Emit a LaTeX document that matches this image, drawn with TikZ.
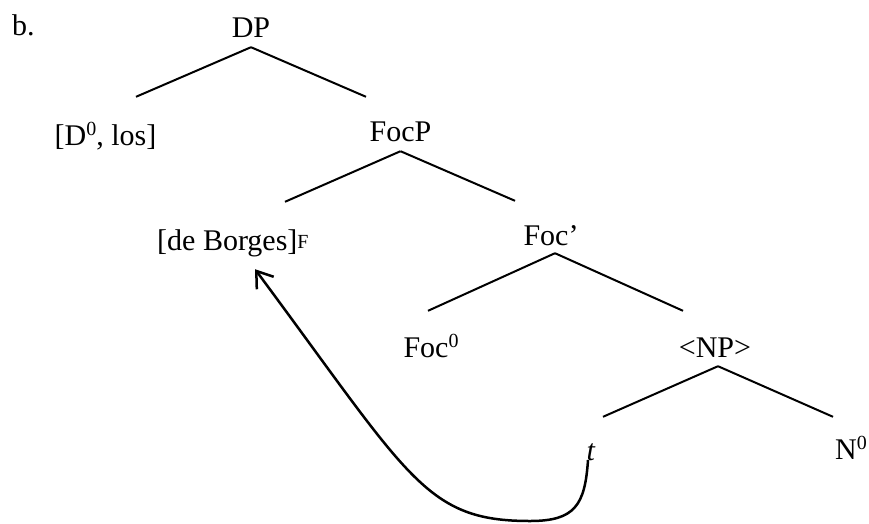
\documentclass[tikz,border=0pt]{standalone}
\usepackage{fontspec}
\setmainfont{Liberation Serif}
\usetikzlibrary{arrows.meta,calc}

\newcommand{\hsup}[1]{\raisebox{10pt}{\fontsize{20}{20}\selectfont #1}}
\newcommand{\fsub}[1]{\raisebox{1.5pt}{\fontsize{20}{20}\selectfont #1}}

\begin{document}
\begin{tikzpicture}[x=1pt,y=-1pt,
  every node/.style={font=\fontsize{30}{36}\selectfont,inner xsep=0pt,inner ysep=3pt,
    text height=22pt,text depth=7pt,anchor=base},
  branch/.style={-,line width=2pt},
  move/.style={-{Straight Barb[length=15pt,width=21pt]},line width=2.5pt}]
\useasboundingbox (0,0) rectangle (869,523);
\node[anchor=base west] (ex) at (12,35) {b.};
\node (dp) at (251,37) {DP};
\node (los) at (105.5,145) {[D\hsup{0}, los]};
\node (focp) at (400.5,141) {FocP};
\node[anchor=base west] (borges) at (157,250) {[de Borges]\fsub{F}};
\node (focbar) at (551,245) {Foc’};
\node (foczero) at (431,357) {Foc\hsup{0}};
\node (np) at (715,357) {\textless NP\textgreater};
\node (t) at (591,460) {\textit{t}};
\node[anchor=base west] (nzero) at (835,459) {N\hsup{0}};
% branches
\draw[branch] (dp.south) -- ([shift={(30.5,-23)}]los.north);
\draw[branch] (dp.south) -- ([shift={(-34.5,-19)}]focp.north);
\draw[branch] (focp.south) -- ([shift={(128,-23)}]borges.north west);
\draw[branch] (focp.south) -- ([shift={(-36,-19)}]focbar.north);
\draw[branch] ([shift={(4,-2)}]focbar.south) -- ([shift={(-3,-21)}]foczero.north);
\draw[branch] ([shift={(4,-2)}]focbar.south) -- ([shift={(-32,-21)}]np.north);
\draw[branch] ([shift={(3,-1)}]np.south) -- ([shift={(12,-18)}]t.north);
\draw[branch] ([shift={(3,-1)}]np.south) -- ([shift={(-2,-17)}]nzero.north west);
% movement
\draw[move] ([xshift=-3pt]t.base) .. controls (585,505) and (575,521) .. (530,521)
  .. controls (425,521) and (410,478) .. ([shift={(98,9)}]borges.south west);
\end{tikzpicture}
\end{document}
